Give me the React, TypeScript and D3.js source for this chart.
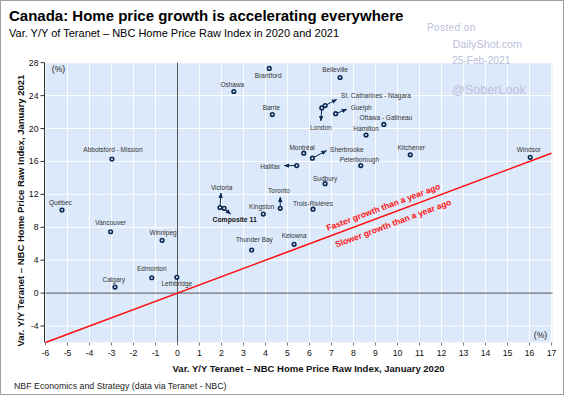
import React, { useEffect, useRef } from 'react';
import * as d3 from 'd3';

// Var. Y/Y Teranet-NBC index, Jan 2020 (x) vs Jan 2021 (y)
const cities = [
  'Brantford', 'Belleville', 'Oshawa', 'Barrie', 'London', 'St. Catharines - Niagara',
  'Guelph', 'Ottawa - Gatineau', 'Hamilton', 'Montréal', 'Sherbrooke', 'Halifax',
  'Peterborough', 'Sudbury', 'Kitchener', 'Windsor', 'Abbotsford - Mission', 'Québec',
  'Vancouver', 'Winnipeg', 'Edmonton', 'Lethbridge', 'Calgary', 'Victoria',
  'Composite 11', 'Kingston', 'Toronto', 'Trois-Rivières', 'Thunder Bay', 'Kelowna',
];
const var2020 = [
  4.17, 7.39, 2.56, 4.31, 6.56, 6.71,
  7.19, 9.38, 8.57, 5.74, 6.13, 5.42,
  8.33, 6.71, 10.58, 16.03, -2.98, -5.25,
  -3.04, -0.7, -1.17, -0.03, -2.84, 1.93,
  2.12, 3.9, 4.67, 6.16, 3.37, 5.3,
];
const var2021 = [
  27.3, 26.2, 24.5, 21.7, 22.5, 22.8,
  21.8, 20.5, 19.2, 17.0, 16.4, 15.5,
  15.5, 13.3, 16.8, 16.5, 16.3, 10.1,
  7.46, 6.42, 1.87, 1.92, 0.74, 10.4,
  10.3, 9.6, 10.3, 10.2, 5.24, 5.93,
];
const xTicks = d3.range(-6, 18);
const yTicks = [-4, 0, 4, 8, 12, 16, 20, 24, 28];

// label placement per city: [dx, dy, anchor, arrow dx, arrow dy]
const labelLayout: [number, number, string, number | null, number | null][] = [
  [-1, 10, 'middle', null, null],
  [-5, -6, 'middle', null, null],
  [-1.5, -5, 'middle', null, null],
  [-1, -4.5, 'middle', null, null],
  [-1, 22, 'middle', -1, 13],
  [16, -7.5, 'start', 11.5, -6],
  [15, -3.3, 'start', 11, -4.5],
  [2, -4.3, 'middle', null, null],
  [0, -3.7, 'middle', null, null],
  [-1.7, -3.7, 'middle', null, null],
  [17.7, -6.4, 'start', 14, -7.5],
  [-16.7, 3, 'end', -12.5, 0],
  [-1.4, -3.7, 'middle', null, null],
  [0, -3, 'middle', null, null],
  [1, -5, 'middle', null, null],
  [-1.4, -5.4, 'middle', null, null],
  [1, -6.7, 'middle', null, null],
  [-1.6, -5.3, 'middle', null, null],
  [0, -7, 'middle', null, null],
  [1, -5.7, 'middle', null, null],
  [0, -6.7, 'middle', null, null],
  [0, 8.7, 'middle', null, null],
  [-1.3, -5.4, 'middle', null, null],
  [1.7, -17.7, 'middle', 1, -14.5],
  [-11.6, 14, 'start', 6.4, 5.7],
  [-1.6, -5.4, 'middle', null, null],
  [-1.3, -15.7, 'middle', 0, -11.3],
  [0, -3.4, 'middle', null, null],
  [2.6, -7.7, 'middle', null, null],
  [0, -6, 'middle', null, null],
];

const FONT = 'Liberation Sans, Arial, sans-serif';
const NAVY = '#0a2850';

const App = () => {
  const ref = useRef<SVGSVGElement>(null);

  useEffect(() => {
    const svg = d3.select(ref.current);
    svg.selectAll('*').remove();

    const W = 564;
    const H = 395;
    const x = d3.scaleLinear().domain([-6, 17]).range([45.5, 551.5]);
    const y = d3.scaleLinear().domain([-6, 28]).range([342.5, 62.7]);

    svg.append('rect').attr('x', 0).attr('y', 0).attr('width', W).attr('height', H).attr('fill', '#fff');
    svg.append('rect')
      .attr('x', 0.5).attr('y', 0.5).attr('width', W - 1).attr('height', H - 1)
      .attr('fill', 'none').attr('stroke', '#a0a0a0');

    const defs = svg.append('defs');
    defs.append('marker')
      .attr('id', 'arr')
      .attr('viewBox', '0 0 10 10')
      .attr('refX', 9).attr('refY', 5)
      .attr('markerWidth', 5.5).attr('markerHeight', 5.5)
      .attr('orient', 'auto')
      .append('path').attr('d', 'M0,1L10,5L0,9Z').attr('fill', NAVY);

    // title block
    svg.append('text').attr('x', 9).attr('y', 20.5)
      .attr('font-family', FONT).attr('font-size', 15).attr('font-weight', 'bold').attr('fill', '#000')
      .text('Canada: Home price growth is accelerating everywhere');
    svg.append('text').attr('x', 9).attr('y', 37)
      .attr('font-family', FONT).attr('font-size', 11).attr('fill', '#000')
      .text('Var. Y/Y of Teranet – NBC Home Price Raw Index in 2020 and 2021');

    // plot area
    const [x0, x1] = x.range();
    const [y0, y1] = y.range();
    svg.append('rect').attr('x', x0).attr('y', y1).attr('width', x1 - x0 + 1).attr('height', y0 - y1)
      .attr('fill', '#dce9fb');

    const grid = svg.append('g').attr('stroke', '#fff').attr('stroke-width', 1);
    grid.selectAll('.vx').data(xTicks.filter(d => d > -6 && d !== 0)).enter().append('line')
      .attr('x1', d => x(d)).attr('x2', d => x(d)).attr('y1', y1).attr('y2', y0);
    grid.selectAll('.hy').data(yTicks.filter(d => d !== 0)).enter().append('line')
      .attr('x1', x0).attr('x2', x1 + 1).attr('y1', d => y(d)).attr('y2', d => y(d));

    // zero axes
    svg.append('line').attr('x1', x(0)).attr('x2', x(0)).attr('y1', y1).attr('y2', y0)
      .attr('stroke', '#555').attr('stroke-width', 1);
    svg.append('line').attr('x1', x0).attr('x2', x1 + 1).attr('y1', y(0)).attr('y2', y(0))
      .attr('stroke', '#555').attr('stroke-width', 1);

    // left axis
    svg.append('line').attr('x1', x0 - 1).attr('x2', x0 - 1).attr('y1', y1).attr('y2', y0)
      .attr('stroke', '#333');
    svg.selectAll('.yt').data(yTicks).enter().append('line')
      .attr('x1', x0 - 5).attr('x2', x0 - 1).attr('y1', d => y(d)).attr('y2', d => y(d))
      .attr('stroke', '#333');
    svg.selectAll('.yl').data(yTicks).enter().append('text')
      .attr('x', x0 - 7).attr('y', d => y(d) + 3)
      .attr('text-anchor', 'end').attr('font-family', FONT).attr('font-size', 8.7).attr('fill', '#111')
      .text(d => d);

    // bottom ticks
    svg.selectAll('.xt').data(xTicks).enter().append('line')
      .attr('x1', d => x(d)).attr('x2', d => x(d)).attr('y1', y0).attr('y2', y0 + 3)
      .attr('stroke', '#777');
    svg.selectAll('.xl').data(xTicks).enter().append('text')
      .attr('x', d => x(d)).attr('y', y0 + 13.5)
      .attr('text-anchor', 'middle').attr('font-family', FONT).attr('font-size', 8.7).attr('fill', '#111')
      .text(d => d);

    svg.append('text').attr('x', x0 + 13).attr('y', y1 + 9.5)
      .attr('text-anchor', 'middle').attr('font-family', FONT).attr('font-size', 8.6).attr('fill', '#222')
      .text('(%)');
    svg.append('text').attr('x', x1 - 11).attr('y', y0 - 5)
      .attr('text-anchor', 'middle').attr('font-family', FONT).attr('font-size', 8.6).attr('fill', '#222')
      .text('(%)');

    // axis titles
    svg.append('text').attr('x', (x0 + x1) / 2 + 10).attr('y', 372)
      .attr('text-anchor', 'middle').attr('font-family', FONT).attr('font-size', 9.5)
      .attr('font-weight', 'bold').attr('fill', '#111')
      .text('Var. Y/Y Teranet – NBC Home Price Raw Index, January 2020');
    svg.append('text')
      .attr('transform', `translate(24,${(y0 + y1) / 2 + 8}) rotate(-90)`)
      .attr('text-anchor', 'middle').attr('font-family', FONT).attr('font-size', 9.5)
      .attr('font-weight', 'bold').attr('fill', '#111')
      .text('Var. Y/Y Teranet – NBC Home Price Raw Index, January 2021');

    svg.append('text').attr('x', 14).attr('y', 389)
      .attr('font-family', FONT).attr('font-size', 8.8).attr('fill', '#222')
      .text('NBF Economics and Strategy (data via Teranet - NBC)');

    // 45° line
    svg.append('line')
      .attr('x1', x(-6)).attr('y1', y(-6)).attr('x2', x(17)).attr('y2', y(17))
      .attr('stroke', '#ff1010').attr('stroke-width', 1.6);
    const ang = (Math.atan2(y(17) - y(-6), x(17) - x(-6)) * 180) / Math.PI;
    const redLabels: [string, number, number][] = [
      ['Faster growth than a year ago', 9.35, 10.45],
      ['Slower growth than a year ago', 9.8, 8.5],
    ];
    svg.selectAll('.rl').data(redLabels).enter().append('text')
      .attr('transform', d => `translate(${x(d[1])},${y(d[2])}) rotate(${ang})`)
      .attr('text-anchor', 'middle').attr('dy', 3)
      .attr('font-family', FONT).attr('font-size', 8.5).attr('font-weight', 'bold').attr('fill', '#ff1010')
      .text(d => d[0]);

    // points
    const pts = cities.map((c, i) => ({ c, px: x(var2020[i]), py: y(var2021[i]), lay: labelLayout[i] }));

    const arrows = svg.append('g');
    pts.filter(p => p.lay[3] !== null).forEach(p => {
      arrows.append('line')
        .attr('x1', p.px).attr('y1', p.py)
        .attr('x2', p.px + (p.lay[3] as number)).attr('y2', p.py + (p.lay[4] as number))
        .attr('stroke', NAVY).attr('stroke-width', 1)
        .attr('marker-end', 'url(#arr)');
    });

    svg.append('g').selectAll('circle').data(pts).enter().append('circle')
      .attr('cx', d => d.px).attr('cy', d => d.py).attr('r', 1.8)
      .attr('fill', '#e8f0fb').attr('stroke', NAVY).attr('stroke-width', 1.6);

    svg.append('g').selectAll('text').data(pts).enter().append('text')
      .attr('x', d => d.px + d.lay[0]).attr('y', d => d.py + d.lay[1])
      .attr('text-anchor', d => d.lay[2])
      .attr('font-family', FONT).attr('font-size', d => (d.c === 'Composite 11' ? 6.8 : 6.5))
      .attr('font-weight', d => (d.c === 'Composite 11' ? 'bold' : 'normal'))
      .attr('fill', d => (d.c === 'Composite 11' ? '#111' : '#333'))
      .text(d => d.c);

    // watermark
    const wm = svg.append('g').attr('font-family', FONT).attr('fill', '#bcc0dc');
    wm.append('text').attr('x', 427).attr('y', 30.5).attr('font-size', 10).attr('letter-spacing', 0.4).text('Posted on');
    wm.append('text').attr('x', 452.5).attr('y', 47.5).attr('font-size', 10.8).text('DailyShot.com');
    wm.append('text').attr('x', 452).attr('y', 64).attr('font-size', 10.2).text('25-Feb-2021');
    wm.append('text').attr('x', 452).attr('y', 94).attr('font-size', 12.6).text('@SoberLook');
  }, []);

  return (
    <svg ref={ref} width={564} height={395}
      style={{ position: 'absolute', left: 0, top: 0, display: 'block' }} />
  );
};

export default App;
